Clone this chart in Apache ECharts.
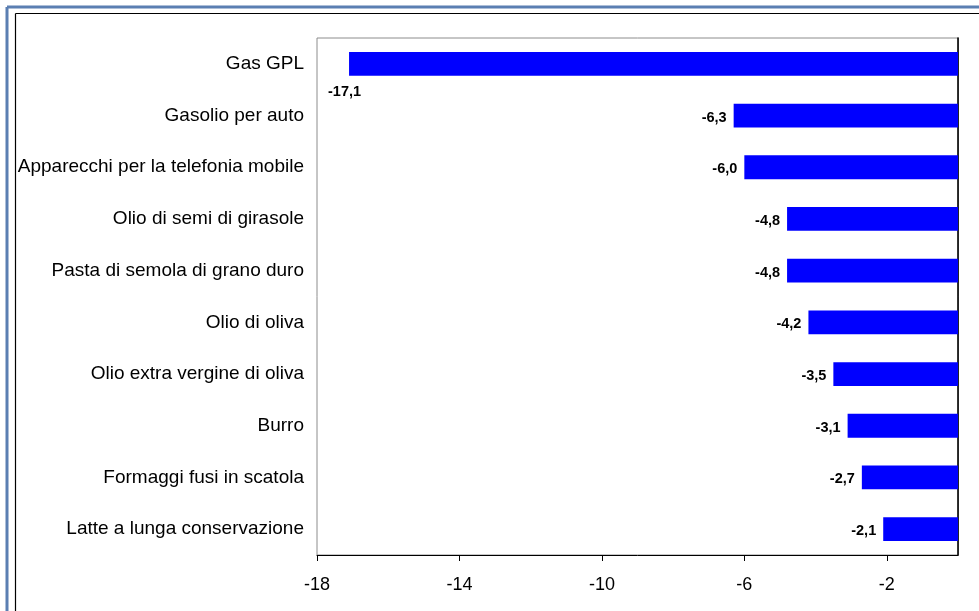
<!DOCTYPE html>
<html>
<head>
<meta charset="utf-8">
<script src="https://cdn.jsdelivr.net/npm/echarts@6/dist/echarts.min.js"></script>
<style>
  html, body { margin: 0; padding: 0; background: #fff; }
  #chart { width: 979px; height: 611px; }
</style>
</head>
<body>
<div id="chart"></div>
<script>
// Price changes (%) by product
const categories = [
  'Gas GPL',
  'Gasolio per auto',
  'Apparecchi per la telefonia mobile',
  'Olio di semi di girasole',
  'Pasta di semola di grano duro',
  'Olio di oliva',
  'Olio extra vergine di oliva',
  'Burro',
  'Formaggi fusi in scatola',
  'Latte a lunga conservazione'
];
const values = [-17.1, -6.3, -6.0, -4.8, -4.8, -4.2, -3.5, -3.1, -2.7, -2.1];
const tickValues = [-18, -14, -10, -6, -2];

const fmt = v => v.toFixed(1).replace('.', ',');

const seriesData = values.map((v, i) => {
  const item = { value: v };
  if (i === 0) {
    // the longest bar reaches the left edge: its label goes below it
    item.label = { offset: [19, 28] };
  }
  return item;
});

const FONT = 'Liberation Sans, Arial, sans-serif';

const chart = echarts.init(document.getElementById('chart'), null, { renderer: 'canvas' });
chart.setOption({
  animation: false,
  backgroundColor: '#ffffff',
  textStyle: { fontFamily: FONT },
  graphic: [
    { type: 'line', shape: { x1: 7, y1: 7, x2: 7, y2: 611 }, style: { stroke: '#5b7fb2', lineWidth: 3 } },
    { type: 'line', shape: { x1: 7, y1: 7, x2: 979, y2: 7 }, style: { stroke: '#5b7fb2', lineWidth: 3 } },
    { type: 'line', shape: { x1: 15.5, y1: 13.5, x2: 15.5, y2: 611 }, style: { stroke: '#000', lineWidth: 1.2 } },
    { type: 'line', shape: { x1: 15.5, y1: 13.5, x2: 979, y2: 13.5 }, style: { stroke: '#000', lineWidth: 1.2 } }
  ],
  grid: {
    left: 317, top: 38, right: 21, bottom: 56,
    show: true, borderColor: '#8c8c8c', borderWidth: 1,
    backgroundColor: 'transparent'
  },
  xAxis: {
    type: 'value',
    min: -18,
    max: 0,
    interval: 2,
    splitLine: { show: false },
    axisLine: { show: true, lineStyle: { color: '#000', width: 1 } },
    axisTick: { show: true, inside: false, length: 6, customValues: tickValues, lineStyle: { color: '#000' } },
    axisLabel: {
      customValues: tickValues,
      color: '#000', fontSize: 18, margin: 21,
      fontFamily: FONT
    }
  },
  yAxis: [
    {
      type: 'category',
      data: categories,
      inverse: true,
      position: 'left',
      axisLine: { show: true, lineStyle: { color: '#8c8c8c', width: 1 } },
      axisTick: { show: false },
      axisLabel: {
        color: '#000', fontSize: 19, margin: 13,
        padding: [5, 0, 0, 0],
        fontFamily: FONT
      }
    },
    {
      type: 'category',
      data: categories,
      inverse: true,
      position: 'right',
      axisLine: { show: true, lineStyle: { color: '#000', width: 1.5 } },
      axisTick: { show: false },
      axisLabel: { show: false }
    }
  ],
  series: [{
    type: 'bar',
    yAxisIndex: 0,
    data: seriesData,
    barWidth: '46%',
    itemStyle: { color: '#0000ff' },
    label: {
      show: true,
      position: 'left',
      distance: 7,
      offset: [0, 2],
      color: '#000',
      fontSize: 14.5,
      fontWeight: 'bold',
      fontFamily: FONT,
      formatter: p => fmt(p.value)
    }
  }]
});
</script>
</body>
</html>
